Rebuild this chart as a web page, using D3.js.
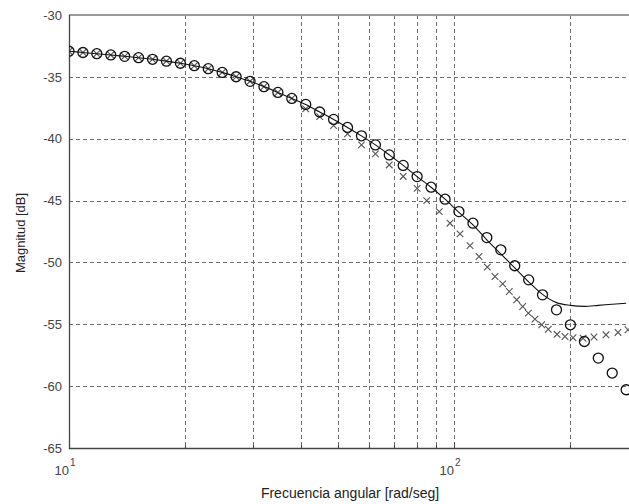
<!DOCTYPE html>
<html>
<head>
<meta charset="utf-8">
<script src="https://cdn.jsdelivr.net/npm/d3@7"></script>
<style>
  html, body { margin: 0; padding: 0; background: #fff; }
  svg { display: block; }
  text { font-family: "Liberation Sans", Arial, sans-serif; }
</style>
</head>
<body>
<svg id="chart" width="629" height="504"></svg>
<script>
// ---- data ----
const freqModel = [10.00, 10.87, 11.81, 12.84, 13.95, 15.16, 16.48, 17.91, 19.47, 21.16,
  23.00, 25.00, 27.17, 29.53, 32.09, 34.88, 37.91, 41.20, 44.78, 48.67,
  52.90, 57.50, 62.50, 67.90, 73.80, 80.20, 87.20, 94.80, 103.0, 112.0,
  121.7, 132.3, 143.8, 156.3, 169.8, 184.6, 200.6, 218.1, 237.0, 257.6, 280.0];

const magCircles = [-32.93, -33.03, -33.13, -33.23, -33.34, -33.45, -33.58, -33.73, -33.90, -34.10,
  -34.34, -34.64, -34.99, -35.36, -35.79, -36.26, -36.74, -37.23, -37.84, -38.44,
  -39.09, -39.77, -40.50, -41.31, -42.16, -43.06, -43.92, -44.89, -45.89, -46.83,
  -47.99, -48.98, -50.27, -51.41, -52.62, -53.83, -55.04, -56.39, -57.73, -58.94, -60.29];

const magLine = [-32.93, -33.03, -33.13, -33.23, -33.34, -33.45, -33.58, -33.73, -33.90, -34.10,
  -34.34, -34.64, -34.99, -35.36, -35.79, -36.26, -36.74, -37.23, -37.84, -38.44,
  -39.09, -39.77, -40.50, -41.31, -42.16, -43.06, -43.92, -44.89, -45.95, -46.96,
  -48.17, -49.31, -50.44, -51.57, -52.58, -53.25, -53.47, -53.55, -53.47, -53.38, -53.30];

const freqCross = [10.00, 10.87, 11.81, 12.84, 13.95, 15.16, 16.48, 17.91, 19.47, 21.16,
  23.00, 25.00, 27.17, 29.53, 32.09, 34.88, 37.91, 41.20, 44.78, 48.67,
  52.90, 57.50, 62.50, 67.90, 73.80, 80.20, 84.94, 91.57, 97.63, 103.65,
  110.04, 116.14, 122.05, 127.8, 133.8, 139.2, 145.5, 150.8, 156.0, 162.3,
  169.0, 175.8, 185.2, 194.2, 203.8, 216.4, 231.0, 248.2, 266.7, 283.1];

const magCross = [-32.93, -33.03, -33.13, -33.23, -33.34, -33.45, -33.58, -33.73, -33.90, -34.10,
  -34.34, -34.64, -34.99, -35.36, -35.79, -36.26, -36.74, -37.59, -38.21, -38.93,
  -39.61, -40.50, -41.23, -42.12, -43.05, -44.01, -45.00, -45.89, -46.83, -47.69,
  -48.64, -49.52, -50.38, -51.14, -51.73, -52.35, -53.02, -53.56, -54.10, -54.58,
  -55.04, -55.40, -55.81, -55.99, -56.09, -56.13, -56.03, -55.85, -55.66, -55.44];

const yTicks = [-65, -60, -55, -50, -45, -40, -35, -30];
const xMajor = [10, 100];
const xMinor = [20, 30, 40, 50, 60, 70, 80, 90, 200, 300];
const xLabel = "Frecuencia angular [rad/seg]";
const yLabel = "Magnitud [dB]";

// ---- layout ----
const mLeft = 69, mTop = 15, mBottom = 448, W = 629;
const x = d3.scaleLog().domain([10, 300]).range([mLeft, mLeft + 385 * Math.log10(30)]);
const y = d3.scaleLinear().domain([-65, -30]).range([mBottom, mTop]);

const svg = d3.select("#chart");

svg.append("defs").append("clipPath").attr("id", "plotclip")
  .append("rect").attr("x", mLeft).attr("y", mTop - 2).attr("width", W - mLeft).attr("height", mBottom - mTop + 4);

const grid = svg.append("g").attr("stroke", "#6e6e6e").attr("stroke-width", 1)
  .attr("stroke-dasharray", "4,3").attr("clip-path", "url(#plotclip)");

// horizontal grid
grid.selectAll("line.h").data(yTicks.filter(v => v > -65 && v < -30)).enter().append("line")
  .attr("x1", mLeft).attr("x2", W).attr("y1", d => Math.round(y(d)) + 0.5).attr("y2", d => Math.round(y(d)) + 0.5);
// vertical grid
grid.selectAll("line.v").data(xMinor.concat([100])).enter().append("line")
  .attr("x1", d => Math.round(x(d)) + 0.5).attr("x2", d => Math.round(x(d)) + 0.5)
  .attr("y1", mTop).attr("y2", mBottom);

// frame
svg.append("line").attr("x1", mLeft).attr("x2", W).attr("y1", mTop).attr("y2", mTop)
  .attr("stroke", "#9a9a9a").attr("stroke-width", 2);
svg.append("line").attr("x1", mLeft).attr("x2", W).attr("y1", mBottom + 0.5).attr("y2", mBottom + 0.5)
  .attr("stroke", "#444").attr("stroke-width", 1.3);
svg.append("line").attr("x1", mLeft + 0.5).attr("x2", mLeft + 0.5).attr("y1", mTop).attr("y2", mBottom + 1)
  .attr("stroke", "#444").attr("stroke-width", 1.3);

// small inward ticks
const tk = svg.append("g").attr("stroke", "#444").attr("stroke-width", 1);
tk.selectAll("line.xt").data(xMinor.concat(xMajor)).enter().append("line")
  .attr("x1", d => Math.round(x(d)) + 0.5).attr("x2", d => Math.round(x(d)) + 0.5)
  .attr("y1", mBottom).attr("y2", d => mBottom - (xMajor.includes(d) ? 6 : 3));

// y tick labels
svg.append("g").selectAll("text").data(yTicks).enter().append("text")
  .attr("x", 62).attr("y", d => y(d)).attr("dy", "0.36em")
  .attr("text-anchor", "end").attr("font-size", 13).attr("fill", "#444")
  .text(d => d);

// x tick labels with superscripts
const xl = svg.append("g").selectAll("text").data(xMajor).enter().append("text")
  .attr("x", d => x(d) - 4).attr("y", 475)
  .attr("text-anchor", "middle").attr("font-size", 13).attr("fill", "#444");
xl.append("tspan").text("10");
xl.append("tspan").attr("dy", -9).attr("dx", 1).attr("font-size", 10).text(d => Math.round(Math.log10(d)));

// axis labels
svg.append("text").attr("x", 350).attr("y", 498).attr("text-anchor", "middle")
  .attr("font-size", 14).attr("fill", "#222").text(xLabel);
svg.append("text").attr("transform", "translate(25,233) rotate(-90)").attr("text-anchor", "middle")
  .attr("font-size", 13).attr("fill", "#222").text(yLabel);

// data layers
const plot = svg.append("g").attr("clip-path", "url(#plotclip)");

// crosses
const cs = 3.3;
plot.append("g").selectAll("path").data(freqCross.map((f, i) => [f, magCross[i]])).enter().append("path")
  .attr("d", d => {
    const cx = x(d[0]), cy = y(d[1]);
    return `M${cx - cs},${cy - cs}L${cx + cs},${cy + cs}M${cx - cs},${cy + cs}L${cx + cs},${cy - cs}`;
  })
  .attr("stroke", "#555").attr("stroke-width", 1.1).attr("fill", "none");

// solid line
plot.append("path").datum(freqModel.map((f, i) => [f, magLine[i]]))
  .attr("d", d3.line().x(d => x(d[0])).y(d => y(d[1])).curve(d3.curveMonotoneX))
  .attr("fill", "none").attr("stroke", "#111").attr("stroke-width", 1.1);

// circles
plot.append("g").selectAll("circle").data(freqModel.map((f, i) => [f, magCircles[i]])).enter().append("circle")
  .attr("cx", d => x(d[0])).attr("cy", d => y(d[1])).attr("r", 5)
  .attr("fill", "none").attr("stroke", "#111").attr("stroke-width", 1.3);
</script>
</body>
</html>
